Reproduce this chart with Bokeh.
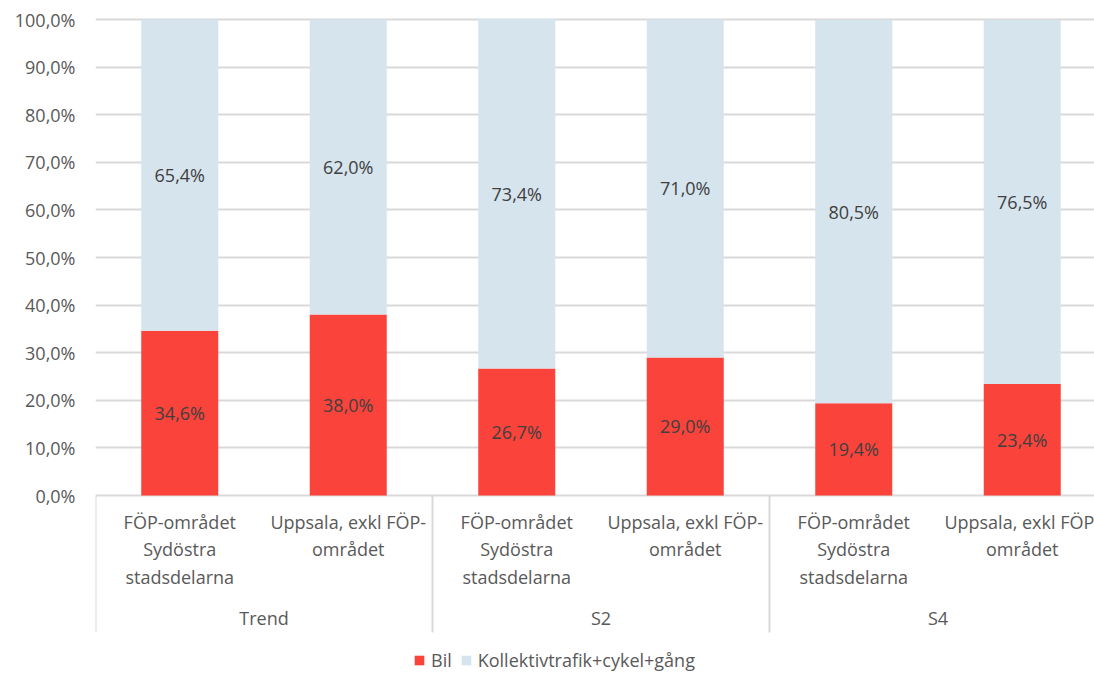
from bokeh.plotting import figure
from bokeh.models import ColumnDataSource, Range1d, FixedTicker, Legend, LegendItem
from bokeh.core.properties import value
from bokeh.embed import file_html
from bokeh.resources import INLINE

# ---- data ----
groups = ["Trend", "S2", "S4"]
sub_labels = ["FÖP-området\nSydöstra\nstadsdelarna", "Uppsala, exkl FÖP-\nområdet"]
bil = [34.6, 38.0, 26.7, 29.0, 19.4, 23.4]
koll = [65.4, 62.0, 73.4, 71.0, 80.5, 76.5]
series_names = ["Bil", "Kollektivtrafik+cykel+gång"]
y_ticks = [0, 10, 20, 30, 40, 50, 60, 70, 80, 90, 100]
y_tick_labels = ["0,0%", "10,0%", "20,0%", "30,0%", "40,0%", "50,0%",
                 "60,0%", "70,0%", "80,0%", "90,0%", "100,0%"]

RED = "#FA433B"
BLUE = "#D6E4EE"
TXT = "#595959"
DLBL = "#404040"
GRID = "#D9D9D9"
FONT = "Open Sans"
FS = "18px"

n = len(bil)
xs = [i + 0.5 for i in range(n)]

def fmt(v):
    return f"{v:.1f}".replace(".", ",") + "%"

src = ColumnDataSource(dict(
    x=xs, bil=bil, koll=koll,
    bil_mid=[b / 2 for b in bil],
    koll_mid=[b + k / 2 for b, k in zip(bil, koll)],
    bil_lbl=[fmt(v) for v in bil],
    koll_lbl=[fmt(v) for v in koll],
    sub=[sub_labels[i % 2] for i in range(n)],
))

W, H = 1094, 672
LEFT, TOP = 95, 14
ZERO_Y = 495
px_per_unit = 4.76
p = figure(width=W, height=H, output_backend="svg", toolbar_location=None,
           x_range=Range1d(0, (W - LEFT) / 168.5),
           y_range=Range1d(-(H - ZERO_Y) / px_per_unit, 100 + (19 - TOP) / px_per_unit),
           x_axis_location=None,
           min_border_left=LEFT, min_border_right=0, min_border_top=TOP, min_border_bottom=0)
p.outline_line_color = None
p.xgrid.visible = False
p.ygrid.ticker = FixedTicker(ticks=y_ticks)
p.ygrid.grid_line_color = GRID
p.ygrid.grid_line_width = 2

ax = p.yaxis[0]
ax.ticker = FixedTicker(ticks=y_ticks)
ax.major_label_overrides = {t: l for t, l in zip(y_ticks, y_tick_labels)}
ax.axis_line_color = None
ax.major_tick_line_color = None
ax.minor_tick_line_color = None
ax.major_tick_out = 0
ax.major_label_standoff = 20
ax.major_label_text_color = TXT
ax.major_label_text_font = FONT
ax.major_label_text_font_size = FS

rs = p.vbar_stack(["bil", "koll"], x="x", width=0.457, color=[RED, BLUE],
                  line_color=None, source=src)

# data labels
p.text(x="x", y="bil_mid", text="bil_lbl", source=src, text_align="center",
       text_baseline="middle", text_color=DLBL, text_font=value(FONT),
       text_font_size=FS)
p.text(x="x", y="koll_mid", text="koll_lbl", source=src, text_align="center",
       text_baseline="middle", text_color=DLBL, text_font=value(FONT),
       text_font_size=FS)

# category axis (multi-level) drawn inside frame below zero
p.text(x="x", y=-(509 - ZERO_Y) / px_per_unit, text="sub", source=src,
       text_align="center", text_baseline="top", text_color=TXT,
       text_font=value(FONT), text_font_size=FS, text_line_height=1.15)
gsrc = ColumnDataSource(dict(x=[2 * i + 1 for i in range(len(groups))], g=groups))
p.text(x="x", y=-(617 - ZERO_Y) / px_per_unit, text="g", source=gsrc,
       text_align="center", text_baseline="middle", text_color=TXT,
       text_font=value(FONT), text_font_size=FS)
sep_x = [2 * i for i in range(len(groups) + 1)]
p.segment(x0=sep_x, x1=sep_x, y0=[0] * len(sep_x),
          y1=[-(632 - ZERO_Y) / px_per_unit] * len(sep_x), line_color=GRID, line_width=2)

legend = Legend(items=[LegendItem(label=series_names[0], renderers=[rs[0]]),
                       LegendItem(label=series_names[1], renderers=[rs[1]])],
                orientation="horizontal", location=(413 - LEFT, 0),
                border_line_color=None, background_fill_alpha=0,
                padding=0, margin=0, spacing=8,
                glyph_width=12, glyph_height=12, label_standoff=6,
                label_text_font=FONT, label_text_font_size=FS,
                label_text_color=TXT)
p.add_layout(legend)

open("out.html", "w").write(file_html(p, INLINE))
